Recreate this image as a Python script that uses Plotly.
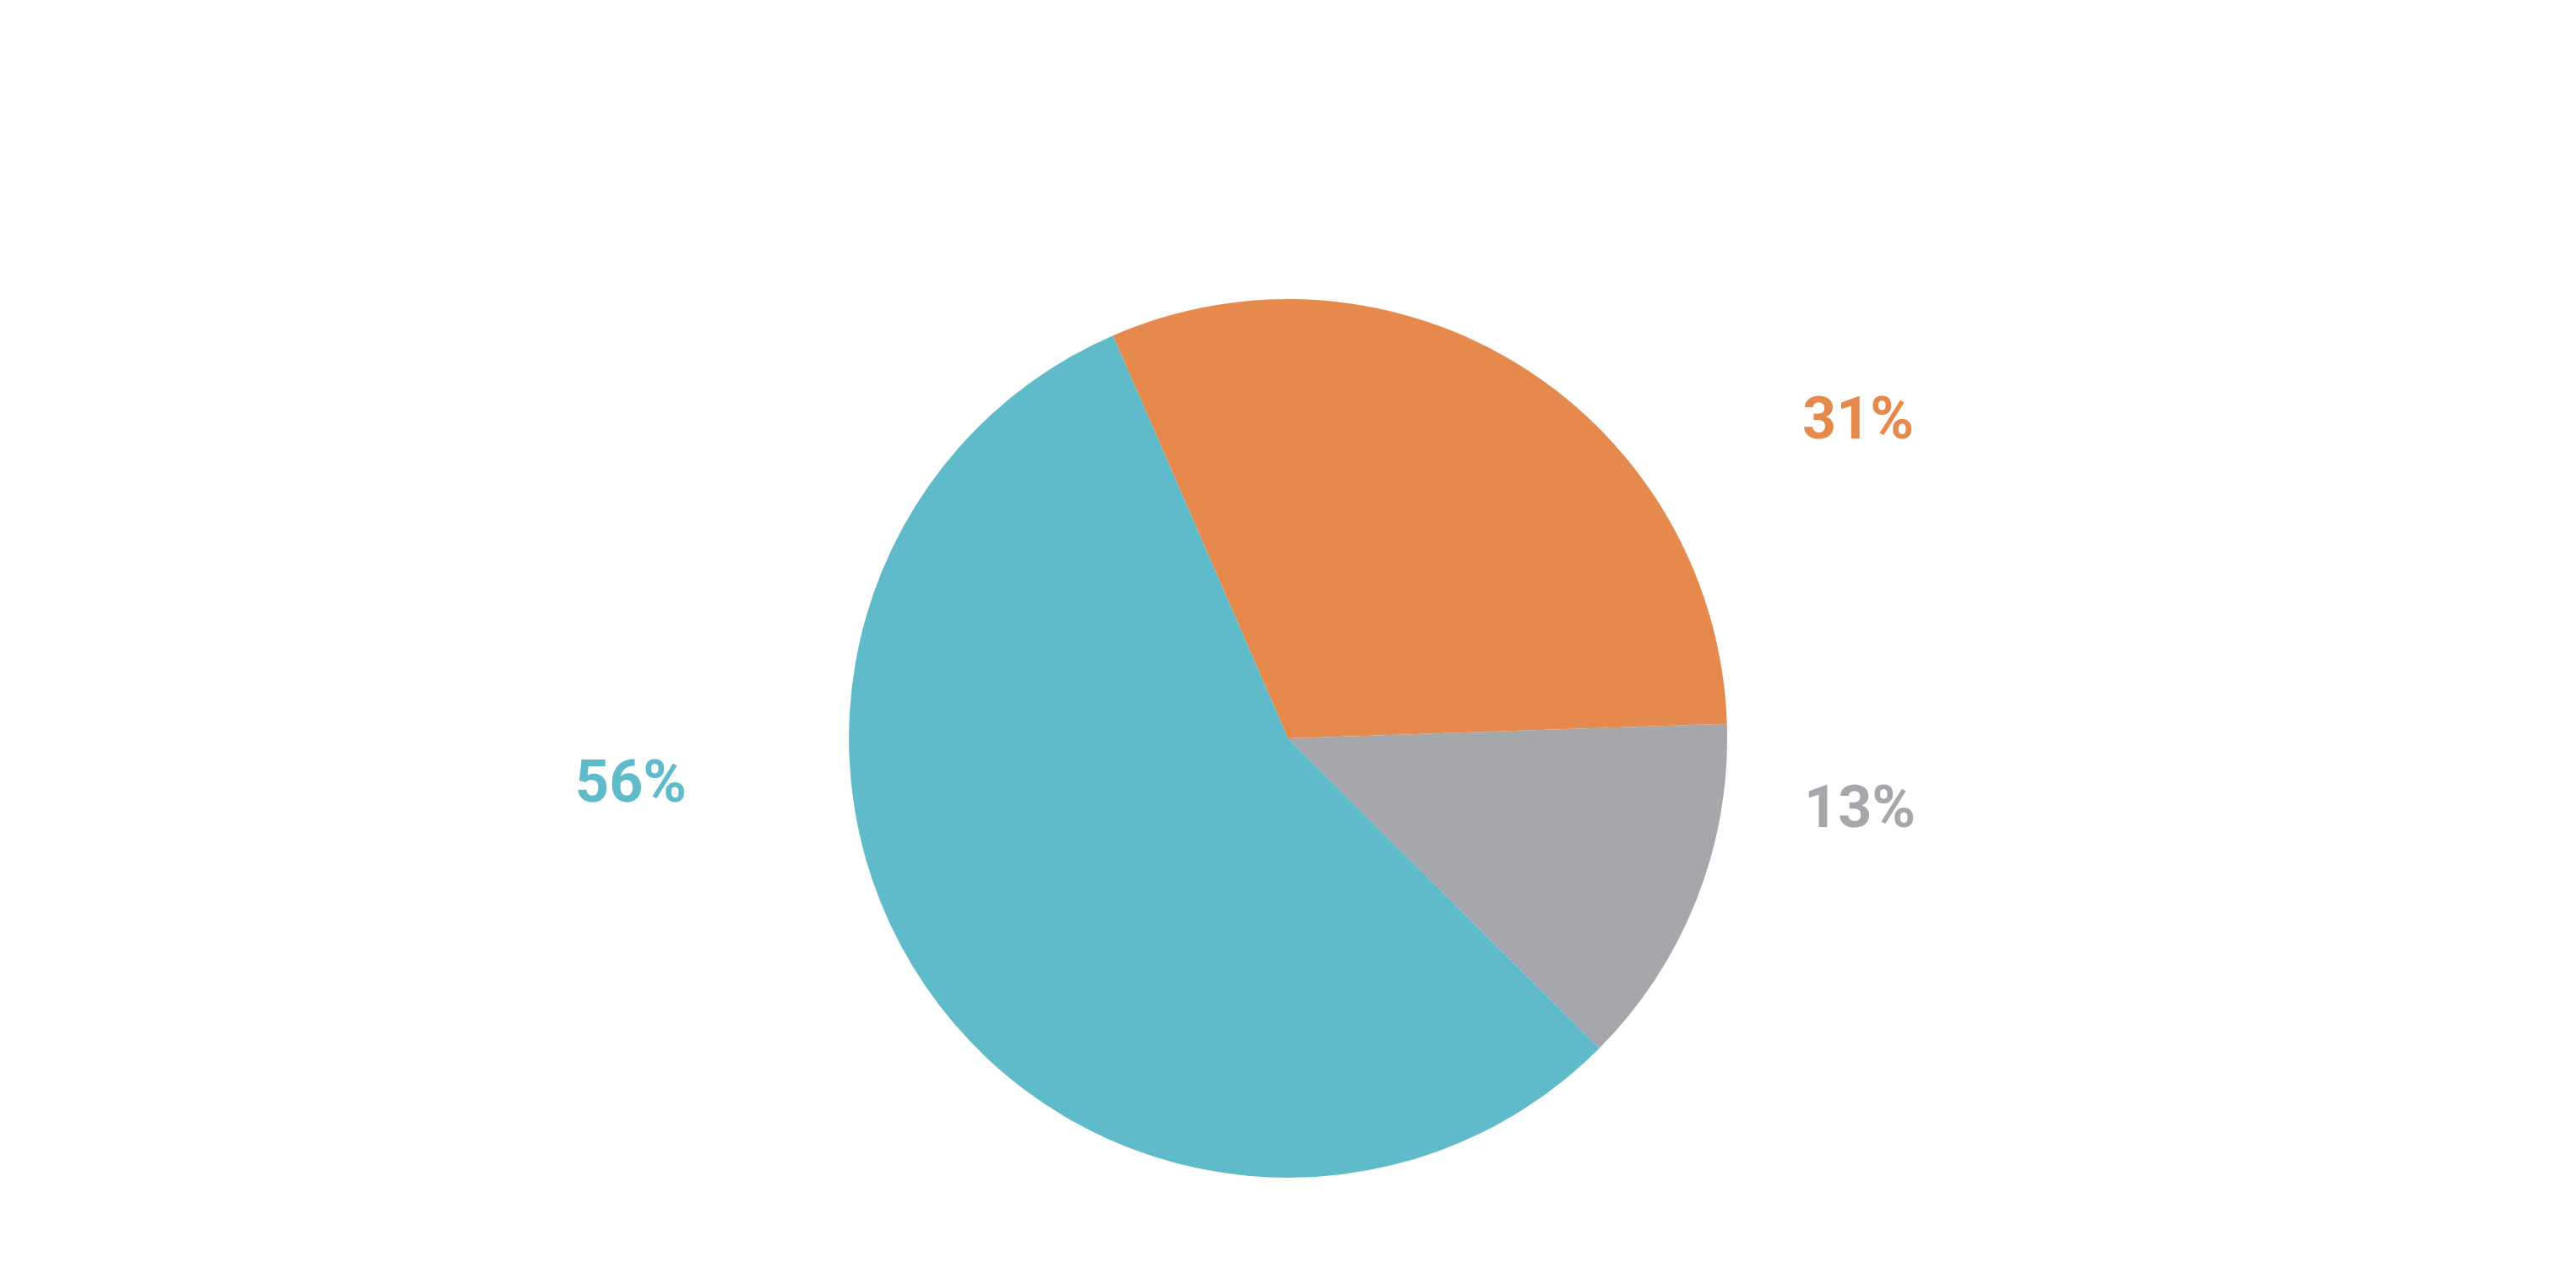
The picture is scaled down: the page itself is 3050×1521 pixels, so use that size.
import plotly.graph_objects as go

categories = ["Orange", "Gray", "Teal"]
values = [31, 13, 56]
colors = ["#E6894C", "#A6A7AB", "#5FBBCA"]
label_text = [f"{v}%" for v in values]

W, H = 3050, 1521

fig = go.Figure(go.Pie(
    labels=categories,
    values=values,
    sort=False,
    direction="clockwise",
    rotation=-23.5,
    marker=dict(colors=colors, line=dict(width=0)),
    textinfo="none",
    hoverinfo="label+percent",
    showlegend=False,
    domain=dict(x=[0, 0.9948], y=[0.0888, 0.7725]),
))

label_pos = [(0.7187, 0.6798), (0.7193, 0.3774), (0.2423, 0.3971)]
for txt, col, (lx, ly) in zip(label_text, colors, label_pos):
    fig.add_annotation(
        x=lx, y=ly, xref="paper", yref="paper",
        text=txt, showarrow=False,
        font=dict(family="Roboto", size=70, color=col, weight="bold"),
        xanchor="center", yanchor="middle",
    )

fig.update_layout(
    width=W, height=H,
    margin=dict(l=0, r=0, t=0, b=0),
    paper_bgcolor="white",
    plot_bgcolor="white",
)

fig.write_html("out.html")
